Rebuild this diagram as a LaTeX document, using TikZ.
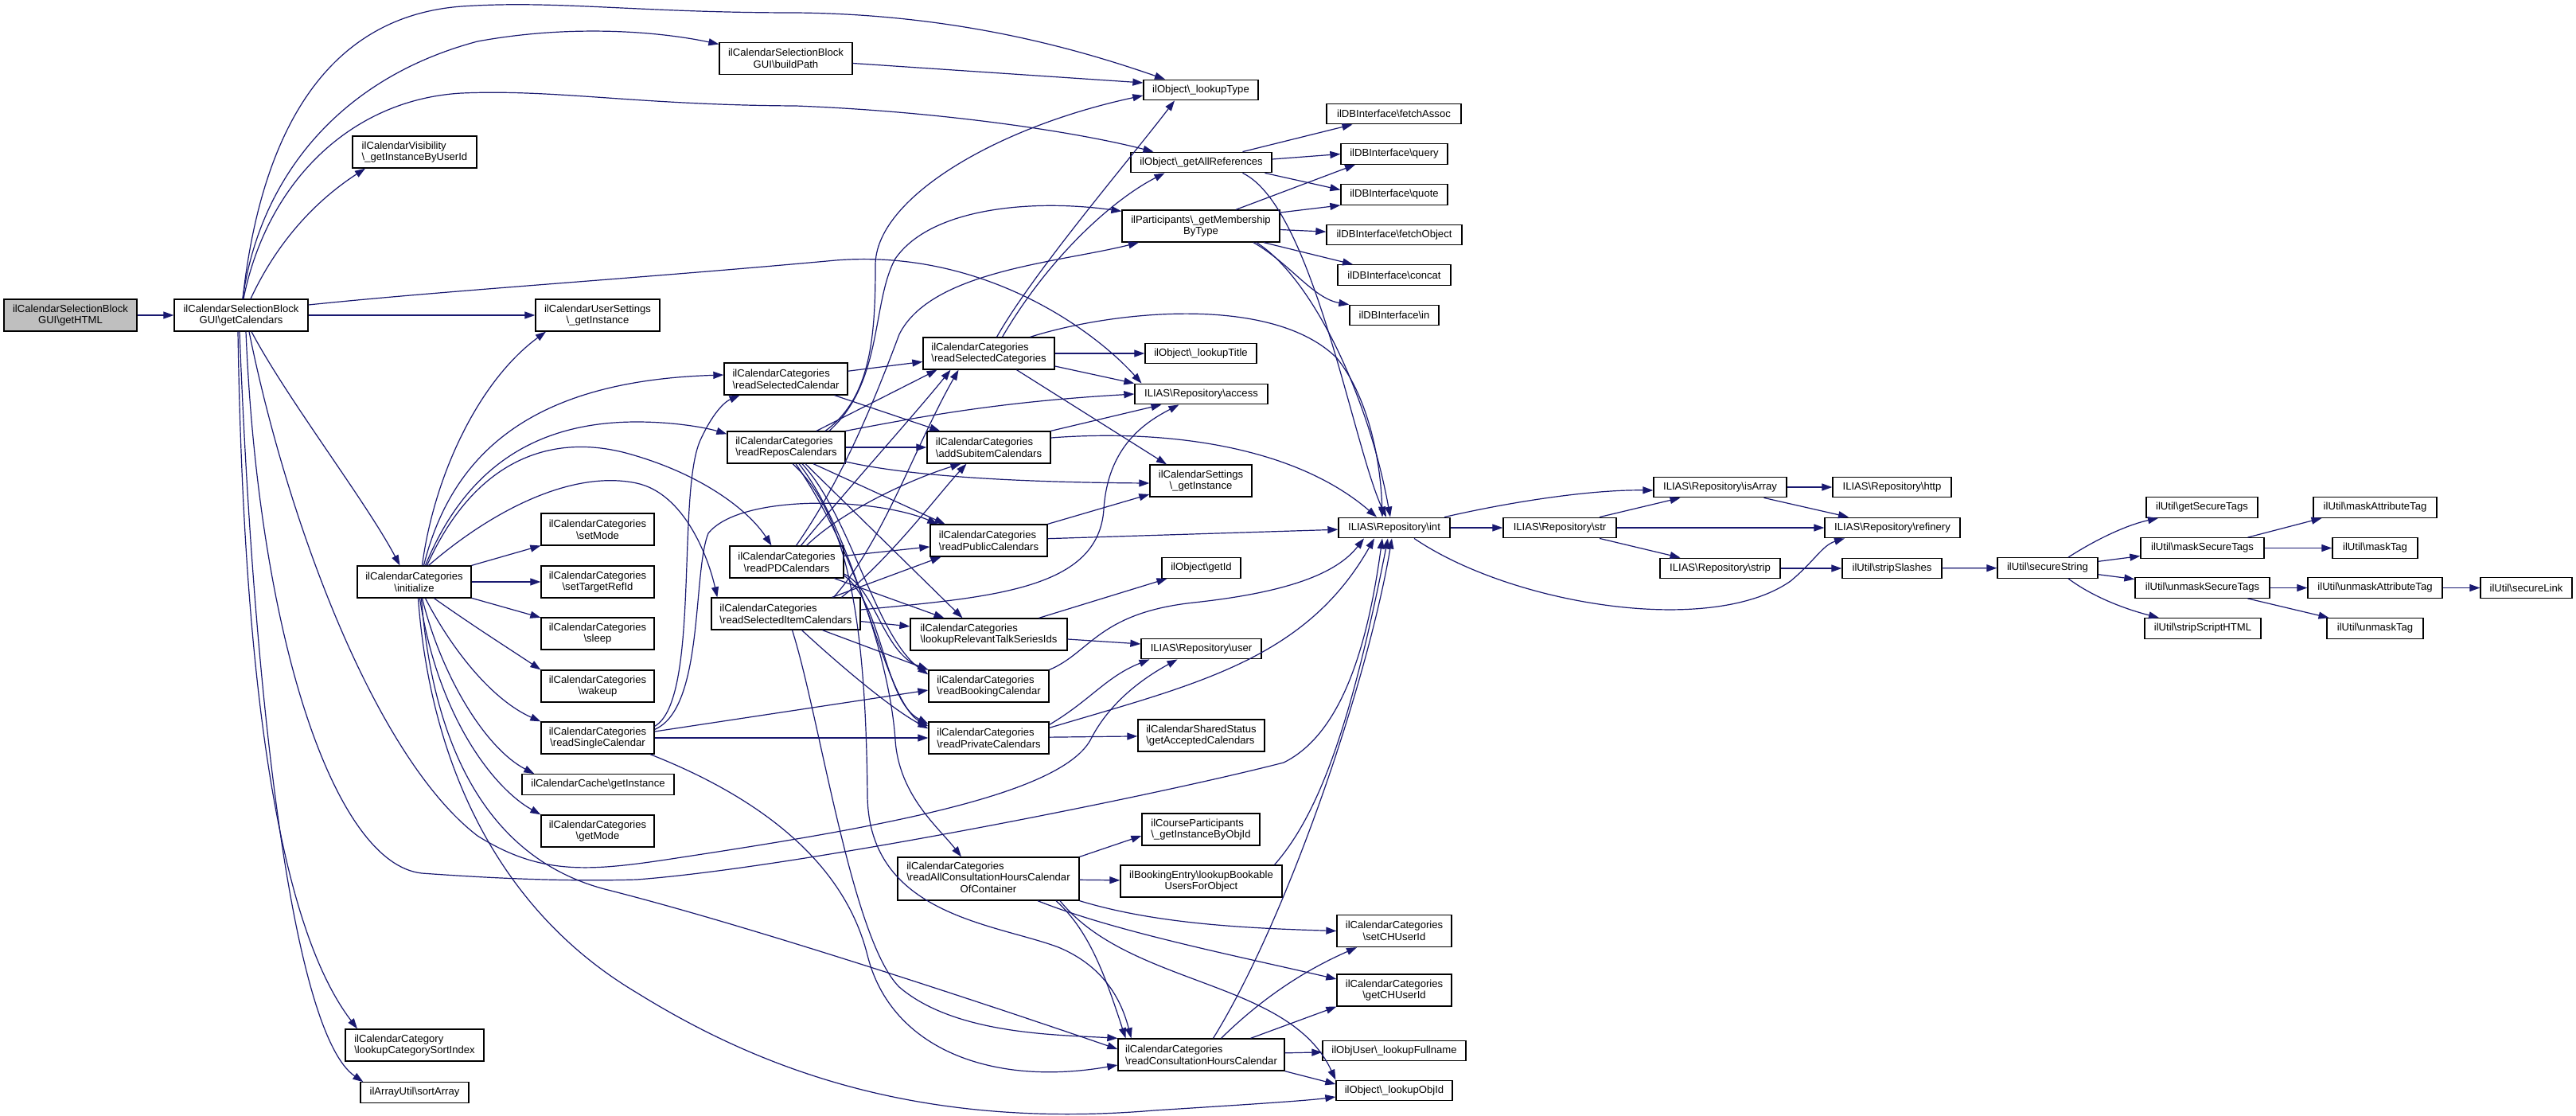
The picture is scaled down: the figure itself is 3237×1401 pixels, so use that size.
\documentclass[tikz,border=0pt]{standalone}
\usepackage{fontspec}
\setmainfont{Liberation Sans}
\usetikzlibrary{arrows.meta}
\definecolor{edgecol}{RGB}{25,25,112}
\definecolor{rootfill}{RGB}{191,191,191}
\newcommand{\BSx}{\textbackslash}
\begin{document}
\begin{tikzpicture}[x=1pt,y=-1pt,
  box/.style={draw=black, line width=1.3pt, fill=white, inner sep=0pt, text=black,
    font=\fontsize{13.1}{14.7}\selectfont, minimum height=25.5pt},
  two/.style={minimum height=40pt},
  lb/.style={align=left},
  cb/.style={align=center},
  e/.style={draw=edgecol, line width=1.2pt, -{Triangle[length=13pt,width=9pt]}}]
\fill[white] (0,0) rectangle (3237,1401);
\useasboundingbox (0,0) rectangle (3237,1401);
% ---------------- nodes ----------------
\node[box,two,cb,fill=rootfill,minimum width=167pt] (getHTML) at (88.5,396) {ilCalendarSelectionBlock\\GUI\BSx getHTML};
\node[box,two,cb,minimum width=168pt] (GC) at (303,396) {ilCalendarSelectionBlock\\GUI\BSx getCalendars};
\node[box,two,lb,minimum width=156pt] (Vis) at (521,191) {ilCalendarVisibility\\\BSx\_getInstanceByUserId};
\node[box,two,cb,minimum width=143pt] (INI) at (520.5,731) {ilCalendarCategories\\\BSx initialize};
\node[box,two,lb,minimum width=174pt] (LCSI) at (521,1313) {ilCalendarCategory\\\BSx lookupCategorySortIndex};
\node[box,minimum width=136pt] (SA) at (521,1372.5) {ilArrayUtil\BSx sortArray};
\node[box,two,cb,minimum width=156pt] (US) at (751,396) {ilCalendarUserSettings\\\BSx\_getInstance};
\node[box,two,cb,minimum width=142pt] (setMode) at (751,665) {ilCalendarCategories\\\BSx setMode};
\node[box,two,cb,minimum width=142pt] (setTR) at (751,731) {ilCalendarCategories\\\BSx setTargetRefId};
\node[box,two,cb,minimum width=142pt] (sleep) at (751,796) {ilCalendarCategories\\\BSx sleep};
\node[box,two,cb,minimum width=142pt] (wakeup) at (751,862) {ilCalendarCategories\\\BSx wakeup};
\node[box,two,cb,minimum width=142pt] (RSgC) at (751,927) {ilCalendarCategories\\\BSx readSingleCalendar};
\node[box,minimum width=191pt] (Cache) at (751.5,985.5) {ilCalendarCache\BSx getInstance};
\node[box,two,cb,minimum width=142pt] (getMode) at (751,1044) {ilCalendarCategories\\\BSx getMode};
\node[box,two,cb,minimum width=167pt] (buildPath) at (987.5,73.5) {ilCalendarSelectionBlock\\GUI\BSx buildPath};
\node[box,two,lb,minimum width=155pt] (RSC) at (987.5,476) {ilCalendarCategories\\\BSx readSelectedCalendar};
\node[box,two,lb,minimum width=148pt] (RRC) at (988,562) {ilCalendarCategories\\\BSx readReposCalendars};
\node[box,two,cb,minimum width=143pt] (RPD) at (988.5,706) {ilCalendarCategories\\\BSx readPDCalendars};
\node[box,two,lb,minimum width=187pt] (RSI) at (987.5,771) {ilCalendarCategories\\\BSx readSelectedItemCalendars};
\node[box,two,lb,minimum width=165pt] (RSCat) at (1242.5,444) {ilCalendarCategories\\\BSx readSelectedCategories};
\node[box,two,lb,minimum width=155pt] (ASC) at (1242.5,562) {ilCalendarCategories\\\BSx addSubitemCalendars};
\node[box,two,lb,minimum width=147pt] (RPubC) at (1242.5,679) {ilCalendarCategories\\\BSx readPublicCalendars};
\node[box,two,lb,minimum width=197pt] (LRT) at (1242.5,797) {ilCalendarCategories\\\BSx lookupRelevantTalkSeriesIds};
\node[box,two,lb,minimum width=151pt] (RBC) at (1242.5,862) {ilCalendarCategories\\\BSx readBookingCalendar};
\node[box,two,lb,minimum width=151pt] (RPrC) at (1242.5,927) {ilCalendarCategories\\\BSx readPrivateCalendars};
\node[box,minimum width=228pt,minimum height=54pt] (RACH) at (1242,1104)
  {\begin{tabular}{@{}l@{}}ilCalendarCategories\\\BSx readAllConsultationHoursCalendar\\\multicolumn{1}{@{}c@{}}{OfContainer}\end{tabular}};
\node[box,minimum width=144pt] (LType) at (1509,113) {ilObject\BSx\_lookupType};
\node[box,minimum width=177pt] (GAR) at (1509.5,204) {ilObject\BSx\_getAllReferences};
\node[box,two,cb,minimum width=198pt] (GMBT) at (1509,284) {ilParticipants\BSx\_getMembership\\ByType};
\node[box,minimum width=140pt] (LTitle) at (1509,444) {ilObject\BSx\_lookupTitle};
\node[box,minimum width=167pt] (access) at (1509.5,495) {ILIAS\BSx Repository\BSx access};
\node[box,two,cb,minimum width=128pt] (CS) at (1509,604) {ilCalendarSettings\\\BSx\_getInstance};
\node[box,minimum width=99pt] (getId) at (1509.5,713.5) {ilObject\BSx getId};
\node[box,minimum width=151pt] (user) at (1509.5,815) {ILIAS\BSx Repository\BSx user};
\node[box,two,lb,minimum width=159pt] (GAC) at (1509.5,924) {ilCalendarSharedStatus\\\BSx getAcceptedCalendars};
\node[box,two,lb,minimum width=148pt] (CP) at (1509,1042) {ilCourseParticipants\\\BSx\_getInstanceByObjId};
\node[box,two,cb,minimum width=203pt] (BE) at (1509.5,1107) {ilBookingEntry\BSx lookupBookable\\UsersForObject};
\node[box,two,lb,minimum width=209pt] (RCHC) at (1509.5,1325) {ilCalendarCategories\\\BSx readConsultationHoursCalendar};
\node[box,minimum width=169pt] (fetchAssoc) at (1751.5,143) {ilDBInterface\BSx fetchAssoc};
\node[box,minimum width=134pt] (query) at (1752,193.5) {ilDBInterface\BSx query};
\node[box,minimum width=134pt] (quote) at (1752,244.5) {ilDBInterface\BSx quote};
\node[box,minimum width=170pt] (fetchObject) at (1752,295) {ilDBInterface\BSx fetchObject};
\node[box,minimum width=142pt] (concat) at (1752,345.5) {ilDBInterface\BSx concat};
\node[box,minimum width=112pt] (dbin) at (1752,396) {ilDBInterface\BSx in};
\node[box,minimum width=140pt] (repint) at (1752,663) {ILIAS\BSx Repository\BSx int};
\node[box,two,cb,minimum width=144pt] (setCH) at (1752,1169.5) {ilCalendarCategories\\\BSx setCHUserId};
\node[box,two,cb,minimum width=144pt] (getCH) at (1752,1244) {ilCalendarCategories\\\BSx getCHUserId};
\node[box,minimum width=180pt] (LFN) at (1752,1320) {ilObjUser\BSx\_lookupFullname};
\node[box,minimum width=146pt] (LOI) at (1752,1370) {ilObject\BSx\_lookupObjId};
\node[box,minimum width=142pt] (str) at (1960,663) {ILIAS\BSx Repository\BSx str};
\node[box,minimum width=167pt] (isArray) at (2161.5,612) {ILIAS\BSx Repository\BSx isArray};
\node[box,minimum width=151pt] (strip) at (2161.5,714) {ILIAS\BSx Repository\BSx strip};
\node[box,minimum width=149pt] (http) at (2377.5,612) {ILIAS\BSx Repository\BSx http};
\node[box,minimum width=170pt] (refinery) at (2378,663) {ILIAS\BSx Repository\BSx refinery};
\node[box,minimum width=125pt] (stripSlashes) at (2377.5,714) {ilUtil\BSx stripSlashes};
\node[box,minimum width=126pt] (secureString) at (2573,713.5) {ilUtil\BSx secureString};
\node[box,minimum width=140pt] (getSecureTags) at (2767,637.5) {ilUtil\BSx getSecureTags};
\node[box,minimum width=155pt] (maskSecureTags) at (2767.5,688.5) {ilUtil\BSx maskSecureTags};
\node[box,minimum width=169pt] (unmaskSecureTags) at (2767.5,738.5) {ilUtil\BSx unmaskSecureTags};
\node[box,minimum width=146pt] (stripScriptHTML) at (2768,789.5) {ilUtil\BSx stripScriptHTML};
\node[box,minimum width=155pt] (maskAttributeTag) at (2984.5,637.5) {ilUtil\BSx maskAttributeTag};
\node[box,minimum width=107pt] (maskTag) at (2984.5,688.5) {ilUtil\BSx maskTag};
\node[box,minimum width=169pt] (unmaskAttributeTag) at (2984.5,738.5) {ilUtil\BSx unmaskAttributeTag};
\node[box,minimum width=121pt] (unmaskTag) at (2984.5,789.5) {ilUtil\BSx unmaskTag};
\node[box,minimum width=115pt] (secureLink) at (3174.5,738.5) {ilUtil\BSx secureLink};
% ---------------- edges ----------------
\draw[e] (getHTML) -- (GC);
% getCalendars
\draw[e] ([xshift=2pt]GC.north) .. controls (330,150) and (420,20) .. (580,8) .. controls (700,0) and (800,16) .. (1000,16) .. controls (1200,18) and (1350,60) .. ([xshift=-45pt]LType.north);
\draw[e] ([xshift=2pt]GC.north) .. controls (325,230) and (420,100) .. (600,52) .. controls (720,30) and (830,40) .. ([yshift=18pt]buildPath.west);
\draw[e] ([xshift=3pt]GC.north) .. controls (335,230) and (440,125) .. (580,117) .. controls (700,112) and (800,132) .. (1000,133) .. controls (1180,140) and (1350,165) .. ([xshift=-60pt]GAR.north);
\draw[e] ([xshift=12pt]GC.north) .. controls (350,300) and (400,250) .. ([xshift=-62pt]Vis.south);
\draw[e] (GC) -- (US);
\draw[e] ([yshift=13pt]GC.east) .. controls (560,365) and (800,350) .. (1050,327) .. controls (1240,312) and (1380,420) .. ([xshift=-75pt]access.north);
\draw[e] ([xshift=13pt]GC.south) .. controls (360,500) and (460,630) .. ([xshift=-18pt]INI.north);
\draw[e] ([xshift=-4pt]GC.south) .. controls (305,800) and (340,1150) .. ([xshift=-72pt]LCSI.north);
\draw[e] ([xshift=-2pt]GC.south) .. controls (320,900) and (370,1300) .. ([xshift=4pt]SA.north west);
\draw[e] ([xshift=6pt]GC.south) .. controls (325,800) and (420,1085) .. (530,1097) .. controls (600,1102) and (700,1108) .. (800,1105) .. controls (1000,1090) and (1450,1000) .. (1613,958) .. controls (1690,920) and (1720,800) .. ([xshift=-15pt]repint.south);
\draw[e] ([xshift=10pt]GC.south) .. controls (360,650) and (470,950) .. (600,1050) .. controls (680,1100) and (740,1095) .. (850,1078) .. controls (1100,1040) and (1330,1000) .. (1370,930) .. controls (1395,880) and (1440,850) .. ([xshift=-30pt]user.south);
% buildPath
\draw[e] ([yshift=-6pt]buildPath.east) -- ([yshift=9pt]LType.west);
% initialize
\draw[e] ([xshift=10pt]INI.north) .. controls (545,600) and (600,480) .. ([xshift=-65pt]US.south);
\draw[e] ([xshift=12pt]INI.north) .. controls (570,560) and (680,478) .. ([yshift=5pt]RSC.west);
\draw[e] ([xshift=14pt]INI.north) .. controls (580,600) and (660,530) .. (800,530) .. controls (850,530) and (890,538) .. ([yshift=-4pt]RRC.north west);
\draw[e] ([xshift=16pt]INI.north) .. controls (600,570) and (700,545) .. (790,570) .. controls (880,595) and (940,640) .. ([xshift=-19pt]RPD.north);
\draw[e] ([xshift=18pt]INI.north) .. controls (620,640) and (720,590) .. (800,607) .. controls (860,620) and (890,700) .. ([xshift=8pt]RSI.north west);
\draw[e] (INI) -- (setMode);
\draw[e] (INI) -- (setTR);
\draw[e] (INI) -- (sleep);
\draw[e] ([xshift=25pt]INI.south) .. controls (600,790) and (640,815) .. (wakeup.north west);
\draw[e] ([xshift=14pt]INI.south) .. controls (570,820) and (620,880) .. (RSgC.north west);
\draw[e] ([xshift=10pt]INI.south) .. controls (555,850) and (610,940) .. ([xshift=16pt]Cache.north west);
\draw[e] ([xshift=7pt]INI.south) .. controls (550,900) and (620,990) .. (getMode.north west);
\draw[e] ([xshift=9pt]INI.south) .. controls (545,950) and (620,1080) .. (760,1117) .. controls (950,1165) and (1250,1265) .. ([yshift=7pt]RCHC.west);
\draw[e] ([xshift=5pt]INI.south) .. controls (540,950) and (620,1140) .. (800,1247) .. controls (950,1340) and (1150,1420) .. (1450,1395) .. controls (1560,1388) and (1640,1383) .. ([yshift=-8pt]LOI.west);
% readSingleCalendar
\draw[e] ([yshift=-6pt]RSgC.north east) .. controls (880,880) and (850,620) .. (880,553) .. controls (895,520) and (910,505) .. ([xshift=-58pt]RSC.south);
\draw[e] ([yshift=-10pt]RSgC.north east) .. controls (885,890) and (870,720) .. (890,670) .. controls (930,620) and (1100,625) .. ([xshift=10pt]RPubC.north west);
\draw[e] ([yshift=8pt]RSgC.east) -- ([yshift=-5pt]RBC.west);
\draw[e] (RSgC) -- (RPrC);
\draw[e] ([xshift=66pt]RSgC.south) .. controls (950,1000) and (1060,1080) .. (1090,1200) .. controls (1120,1320) and (1250,1365) .. ([yshift=-13pt]RCHC.west);
% readSelectedCalendar
\draw[e] (RSC) -- (RSCat);
\draw[e] (RSC) -- (ASC);
% readReposCalendars
\draw[e] ([xshift=38pt]RRC.north) -- ([xshift=-65pt]RSCat.south);
\draw[e] (RRC) -- (ASC);
\draw[e] (RRC.north east) .. controls (1150,525) and (1250,505) .. (access.west);
\draw[e] ([yshift=-18pt]RRC.east) .. controls (1150,600) and (1300,606) .. ([yshift=-3pt]CS.west);
\draw[e] ([xshift=34pt]RRC.south) -- ([xshift=-55pt]RPubC.north);
\draw[e] ([xshift=24pt]RRC.south) -- ([xshift=-33pt]LRT.north);
\draw[e] ([xshift=20pt]RRC.south) .. controls (1070,650) and (1100,800) .. ([yshift=-6pt]RBC.north west);
\draw[e] ([xshift=16pt]RRC.south) .. controls (1080,680) and (1110,880) .. ([yshift=-6pt]RPrC.north west);
\draw[e] ([xshift=12pt]RRC.south) .. controls (1080,700) and (1120,850) .. (1125,930) .. controls (1130,1000) and (1180,1040) .. ([xshift=-34pt]RACH.north);
\draw[e] ([xshift=8pt]RRC.south) .. controls (1070,650) and (1088,800) .. (1090,1000) .. controls (1092,1150) and (1250,1160) .. (1330,1190) .. controls (1390,1215) and (1410,1260) .. ([xshift=-88pt]RCHC.north);
\draw[e] ([xshift=49pt]RRC.north) .. controls (1095,500) and (1100,420) .. (1100,333) .. controls (1100,250) and (1250,160) .. ([yshift=-7pt]LType.west);
\draw[e] ([xshift=54pt]RRC.north) .. controls (1110,480) and (1095,380) .. (1125,325) .. controls (1170,260) and (1300,250) .. ([yshift=-2pt]GMBT.north west);
% readPDCalendars
\draw[e] ([xshift=18pt]RPD.north) .. controls (1060,620) and (1150,520) .. ([xshift=-48pt]RSCat.south);
\draw[e] ([xshift=25pt]RPD.north) .. controls (1060,640) and (1150,600) .. ([xshift=-35pt]ASC.south);
\draw[e] (RPD) -- (RPubC);
\draw[e] ([xshift=60pt]RPD.south) -- ([xshift=-56pt]LRT.north);
\draw[e] ([yshift=-15pt]RPD.east) .. controls (1100,740) and (1110,820) .. (RBC.north west);
\draw[e] ([yshift=-17pt]RPD.east) .. controls (1110,760) and (1110,880) .. ([yshift=-3pt]RPrC.north west);
\draw[e] ([xshift=12pt]RPD.north) .. controls (1060,600) and (1100,500) .. (1130,420) .. controls (1170,340) and (1330,330) .. ([xshift=-78pt]GMBT.south);
% readSelectedItemCalendars
\draw[e] ([xshift=60pt]RSI.north) .. controls (1110,680) and (1150,560) .. ([xshift=-38pt]RSCat.south);
\draw[e] ([xshift=70pt]RSI.north) .. controls (1120,700) and (1180,620) .. ([xshift=-28pt]ASC.south);
\draw[e] ([xshift=58pt]RSI.north) -- ([xshift=-60pt]RPubC.south);
\draw[e] ([yshift=5pt]RSI.east) .. controls (1250,750) and (1380,740) .. (1387,640) .. controls (1392,560) and (1440,530) .. ([xshift=-28pt]access.south);
\draw[e] (RSI) -- (LRT);
\draw[e] ([xshift=46pt]RSI.south) -- (RBC.north west);
\draw[e] ([xshift=20pt]RSI.south) .. controls (1060,840) and (1120,890) .. ([yshift=-9pt]RPrC.north west);
\draw[e] ([xshift=8pt]RSI.south) .. controls (1030,900) and (1070,1180) .. (1130,1240) .. controls (1200,1300) and (1330,1300) .. (RCHC.north west);
% readSelectedCategories
\draw[e] ([xshift=10pt]RSCat.north) .. controls (1300,340) and (1420,200) .. ([xshift=-33pt]LType.south);
\draw[e] ([xshift=17pt]RSCat.north) .. controls (1320,320) and (1400,250) .. ([xshift=-46pt]GAR.south);
\draw[e] ([xshift=52pt]RSCat.north) .. controls (1400,390) and (1600,370) .. (1680,450) .. controls (1720,500) and (1735,580) .. ([xshift=-15pt]repint.north);
\draw[e] (RSCat) -- (LTitle);
\draw[e] ([yshift=-16pt]RSCat.east) -- (access.north west);
\draw[e] ([xshift=35pt]RSCat.south) -- ([xshift=-43pt]CS.north);
% addSubitemCalendars
\draw[e] (ASC.north east) -- ([xshift=-50pt]access.south);
\draw[e] ([yshift=12pt]ASC.east) .. controls (1450,540) and (1620,555) .. ([xshift=-22pt]repint.north);
% readPublicCalendars
\draw[e] (RPubC.north east) -- ([yshift=-17pt]CS.west);
\draw[e] (RPubC) -- (repint);
% lookupRelevantTalkSeriesIds
\draw[e] ([xshift=63pt]LRT.north) -- ([xshift=-43pt]getId.south);
\draw[e] ([yshift=-6pt]LRT.east) -- ([yshift=6pt]user.west);
% readBookingCalendar
\draw[e] (RBC.north east) .. controls (1370,820) and (1380,770) .. (1500,757) .. controls (1620,744) and (1680,720) .. ([xshift=-38pt]repint.south);
% readPrivateCalendars
\draw[e] ([yshift=-4pt]RPrC.north east) .. controls (1370,880) and (1390,850) .. ([xshift=-65pt]user.south);
\draw[e] ([yshift=-8pt]RPrC.north east) .. controls (1500,860) and (1640,830) .. ([xshift=-25pt]repint.south);
\draw[e] (RPrC) -- (GAC);
% readAllConsultationHoursCalendarOfContainer
\draw[e] (RACH.north east) -- ([yshift=-8pt]CP.west);
\draw[e] (RACH) -- (BE);
\draw[e] (RACH.south east) .. controls (1450,1160) and (1560,1166) .. (setCH.west);
\draw[e] ([xshift=62pt]RACH.south) .. controls (1400,1170) and (1550,1200) .. ([yshift=14pt]getCH.west);
\draw[e] ([xshift=85pt]RACH.south) .. controls (1370,1170) and (1390,1230) .. ([xshift=-95pt]RCHC.north);
\draw[e] ([xshift=90pt]RACH.south) .. controls (1420,1240) and (1620,1230) .. (LOI.north west);
% lookupBookableUsersForObject
\draw[e] ([xshift=92pt]BE.north) .. controls (1660,1020) and (1700,900) .. ([xshift=-8pt]repint.south);
% readConsultationHoursCalendar
\draw[e] ([xshift=15pt]RCHC.north) .. controls (1620,1150) and (1720,850) .. ([xshift=-3pt]repint.south);
\draw[e] ([xshift=25pt]RCHC.north) .. controls (1600,1240) and (1660,1210) .. ([xshift=-47pt]setCH.south);
\draw[e] ([xshift=62pt]RCHC.north) -- (getCH.south west);
\draw[e] (RCHC) -- (LFN);
\draw[e] (RCHC.south east) -- ([yshift=8pt]LOI.west);
% getAllReferences
\draw[e] ([xshift=52pt]GAR.north) -- ([xshift=-52pt]fetchAssoc.south);
\draw[e] ([yshift=4pt]GAR.east) -- (query.west);
\draw[e] ([xshift=80pt]GAR.south) -- ([yshift=6pt]quote.west);
\draw[e] ([xshift=52pt]GAR.south) .. controls (1650,260) and (1700,560) .. ([xshift=-10pt]repint.north);
% getMembershipByType
\draw[e] ([xshift=44pt]GMBT.north) -- ([xshift=-49pt]query.south);
\draw[e] ([yshift=17pt]GMBT.east) -- (quote.south west);
\draw[e] (GMBT) -- (fetchObject);
\draw[e] ([xshift=79pt]GMBT.south) -- ([xshift=-52pt]concat.north);
\draw[e] ([xshift=66pt]GMBT.south) .. controls (1620,330) and (1650,375) .. (dbin.north west);
\draw[e] ([xshift=70pt]GMBT.south) .. controls (1650,350) and (1720,500) .. ([xshift=-5pt]repint.north);
% int and the rest
\draw[e] (repint) -- (str);
\draw[e] ([xshift=63pt]repint.north) .. controls (1900,630) and (2000,615) .. ([yshift=-4pt]isArray.west);
\draw[e] ([xshift=25pt]repint.south) .. controls (1900,760) and (2150,800) .. (2250,730) .. controls (2280,705) and (2290,685) .. ([xshift=-60pt]refinery.south);
\draw[e] ([xshift=50pt]str.north) -- ([xshift=-50pt]isArray.south);
\draw[e] (str) -- (refinery);
\draw[e] ([xshift=50pt]str.south) -- ([xshift=-50pt]strip.north);
\draw[e] (isArray) -- (http);
\draw[e] ([xshift=55pt]isArray.south) -- ([xshift=-55pt]refinery.north);
\draw[e] (strip) -- (stripSlashes);
\draw[e] (stripSlashes) -- (secureString);
\draw[e] ([xshift=26pt]secureString.north) .. controls (2630,680) and (2670,660) .. ([xshift=-55pt]getSecureTags.south);
\draw[e] (secureString) -- (maskSecureTags);
\draw[e] (secureString) -- (unmaskSecureTags);
\draw[e] ([xshift=26pt]secureString.south) .. controls (2630,750) and (2670,765) .. ([xshift=-55pt]stripScriptHTML.north);
\draw[e] ([xshift=57pt]maskSecureTags.north) -- ([xshift=-67pt]maskAttributeTag.south);
\draw[e] (maskSecureTags) -- (maskTag);
\draw[e] (unmaskSecureTags) -- (unmaskAttributeTag);
\draw[e] ([xshift=57pt]unmaskSecureTags.south) -- ([xshift=-58pt]unmaskTag.north);
\draw[e] (unmaskAttributeTag) -- (secureLink);
\end{tikzpicture}
\end{document}
